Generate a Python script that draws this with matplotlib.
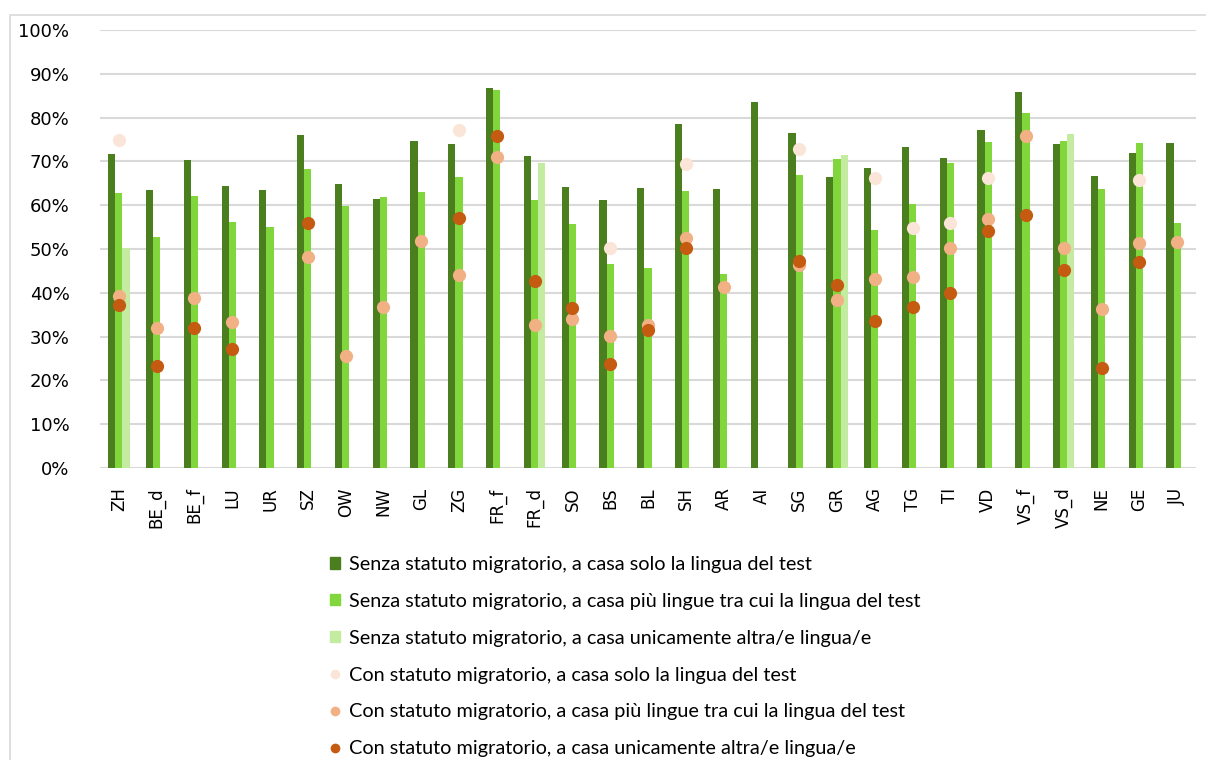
import matplotlib.pyplot as plt
import matplotlib.patches as mpatches
from matplotlib.lines import Line2D
from matplotlib.ticker import PercentFormatter
import numpy as np

nan = np.nan

# ---------------------------------------------------------------------------
# DATA
# ---------------------------------------------------------------------------
cantoni = ["ZH", "BE_d", "BE_f", "LU", "UR", "SZ", "OW", "NW", "GL", "ZG",
           "FR_f", "FR_d", "SO", "BS", "BL", "SH", "AR", "AI", "SG", "GR",
           "AG", "TG", "TI", "VD", "VS_f", "VS_d", "NE", "GE", "JU"]

senza_solo = [71.7, 63.5, 70.4, 64.4, 63.5, 76.1, 64.8, 61.5, 74.7, 74.0,
              86.8, 71.3, 64.1, 61.3, 63.9, 78.5, 63.8, 83.5, 76.4, 66.4,
              68.6, 73.4, 70.7, 77.1, 85.9, 73.9, 66.6, 72.0, 74.3]
senza_piu = [62.8, 52.8, 62.1, 56.2, 55.1, 68.2, 59.9, 61.9, 62.9, 66.4,
             86.3, 61.3, 55.7, 46.5, 45.7, 63.3, 44.4, nan, 67.0, 70.5,
             54.4, 60.3, 69.7, 74.4, 81.1, 74.7, 63.7, 74.2, 56.0]
senza_altra = [50.2, nan, nan, nan, nan, nan, nan, nan, nan, nan,
               nan, 69.6, nan, nan, nan, nan, nan, nan, nan, 71.4,
               nan, nan, nan, nan, nan, 76.3, nan, nan, nan]

con_solo = [74.9, nan, nan, nan, nan, nan, nan, nan, nan, 77.1,
            nan, nan, nan, 50.2, nan, 69.4, nan, nan, 72.8, nan,
            66.2, 54.9, 56.0, 66.3, nan, nan, nan, 65.7, nan]
con_piu = [39.2, 31.9, 38.7, 33.3, nan, 48.1, 25.6, 36.8, 51.8, 44.1,
           71.1, 32.6, 34.0, 30.1, 32.6, 52.4, 41.4, nan, 46.4, 38.4,
           43.2, 43.7, 50.2, 56.8, 75.8, 50.2, 36.2, 51.4, 51.7]
con_altra = [37.2, 23.3, 32.0, 27.2, nan, 55.9, nan, nan, nan, 57.1,
             75.7, 42.7, 36.6, 23.7, 31.6, 50.2, nan, nan, 47.3, 41.7,
             33.6, 36.7, 40.0, 54.0, 57.8, 45.2, 22.9, 47.0, nan]

etichette = ["Senza statuto migratorio, a casa solo la lingua del test",
             "Senza statuto migratorio, a casa più lingue tra cui la lingua del test",
             "Senza statuto migratorio, a casa unicamente altra/e lingua/e",
             "Con statuto migratorio, a casa solo la lingua del test",
             "Con statuto migratorio, a casa più lingue tra cui la lingua del test",
             "Con statuto migratorio, a casa unicamente altra/e lingua/e"]

colori_barre = ["#4a7e1e", "#80d63b", "#c3eca0"]
colori_punti = ["#fbe5d8", "#f2b185", "#c55a11"]

# ---------------------------------------------------------------------------
# PLOT
# ---------------------------------------------------------------------------
plt.rcParams['font.family'] = ['DejaVu Sans']

fig = plt.figure(figsize=(12.06, 7.60), dpi=100)
ax = fig.add_axes([100/1206, 1-468/760, 1096/1206, 438/760])

x = np.arange(len(cantoni))
w = 0.19
for i, serie in enumerate([senza_solo, senza_piu, senza_altra]):
	ax.bar(x + (i-1)*w, serie, w, color=colori_barre[i], zorder=2)
for i, serie in enumerate([con_solo, con_piu, con_altra]):
	ax.plot(x, serie, "o", ms=9.5, color=colori_punti[i], mec="none", zorder=3)

ax.set_xlim(-0.5, len(cantoni)-0.5)
ax.set_ylim(0, 100)
ax.set_yticks(np.arange(0, 101, 10))
ax.yaxis.set_major_formatter(PercentFormatter(decimals=0))
ax.set_xticks(x)
ax.set_xticklabels(cantoni, rotation=90)
ax.tick_params(axis="y", length=0, pad=22, labelsize=13, colors="#000000")
ax.tick_params(axis="x", length=0, pad=14, labelsize=12)
ax.grid(axis="y", color="#d9d9d9", linewidth=1.5, zorder=0)
ax.set_axisbelow(True)
for s in ["top", "right", "left", "bottom"]:
	ax.spines[s].set_visible(False)

# legend
handles = [mpatches.Patch(color=c) for c in colori_barre]
handles += [Line2D([], [], ls="none", marker="o", ms=7, color=c, mec="none") for c in colori_punti]
fig.legend(handles, etichette, loc="upper left", bbox_to_anchor=(320/1206, 1-546/760),
           frameon=False, prop={"family": "Lato", "size": 14.3}, borderpad=0,
           labelspacing=1.0, handlelength=0.5, handleheight=0.5, handletextpad=0.45)

# bordo del grafico
fig.patches.append(mpatches.Rectangle((10/1206, -0.1), 1.2, 1.1-15/760, transform=fig.transFigure,
                                      fill=False, ec="#d9d9d9", lw=1.2))

fig.savefig("out.png", dpi=100)
